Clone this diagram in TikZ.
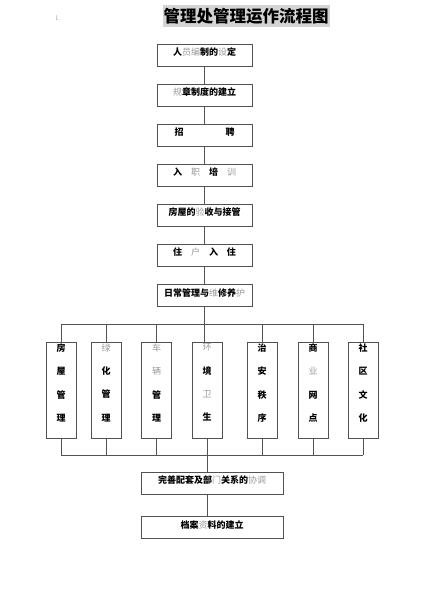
\documentclass[tikz,border=0pt]{standalone}
\usepackage{fontspec}
\newfontfamily\cjk{Noto Sans CJK SC}
\usetikzlibrary{positioning}
\definecolor{linegray}{gray}{0.32}
\definecolor{faintchar}{gray}{0.6}
\definecolor{titlebg}{gray}{0.83}
\newcommand\faint[1]{{\mdseries\textcolor{faintchar}{#1}}}
\begin{document}
\begin{tikzpicture}[x=1pt,y=1pt,
    stepbox/.style = {draw=linegray, line width=0.8pt,
    minimum width=95pt, minimum height=22pt, inner sep=0pt,
    text height=8pt, text depth=7pt,
    font=\cjk\bfseries\fontsize{9pt}{10pt}\selectfont},
    widebox/.style = {stepbox, minimum width=142pt},
    vbox/.style = {draw=linegray, line width=0.8pt,
    minimum width=30pt, minimum height=96pt, inner sep=0pt},
    vlabel/.style = {anchor=north, align=center, inner sep=0pt, yshift=-2pt,
    font=\cjk\bfseries\fontsize{9pt}{23.3pt}\selectfont},
    link/.style = {draw=linegray, line width=0.8pt}]
\useasboundingbox (0,0) rectangle (425,601);
% title
\node[fill=titlebg, inner sep=1pt, minimum height=22pt,
  font=\cjk\bfseries\fontsize{16.5pt}{18pt}\selectfont] (title) at (246,585) {管理处管理运作流程图};
\node[text=faintchar, font=\rmfamily\fontsize{7pt}{8pt}\selectfont] (num) at (58,583) {1.};
% main chain
\node[stepbox] (m1) at (204.5,546) {人\faint{员编}制的\faint{设}定};
\node[stepbox, below=17.3pt of m1] (m2) {\faint{规}章制度的建立};
\node[stepbox, below=17.3pt of m2] (m3) {招\hspace{42pt}聘};
\node[stepbox, below=17.3pt of m3] (m4) {入\hspace{9pt}\faint{职}\hspace{9pt}培\hspace{9pt}\faint{训}};
\node[stepbox, below=17.3pt of m4] (m5) {房屋的\faint{验}收与接管};
\node[stepbox, below=17.3pt of m5] (m6) {住\hspace{9pt}\faint{户}\hspace{9pt}入\hspace{9pt}住};
\node[stepbox, below=17.3pt of m6] (m7) {日常管理与\faint{维}修养\faint{护}};
\foreach \i [count=\j from 2] in {1,...,6}
  \draw[link] (m\i.south) -- (m\j.north);
% branches
\foreach \x/\t [count=\i] in {61/{房\\屋\\管\\理}, 106/{\faint{绿}\\化\\管\\理},
    156.5/{\faint{车}\\\faint{辆}\\管\\理}, 207/{\faint{环}\\境\\\faint{卫}\\生},
    262/{治\\安\\秩\\序}, 313/{商\\\faint{业}\\网\\点}, 363/{社\\区\\文\\化}}
  \node[vbox, label={[vlabel]north:\t}] (v\i) at (\x,211) {};
\coordinate (topbus) at (0,277);
\coordinate (botbus) at (0,146);
\draw[link] (m7.south) -- (m7.south |- v4.north);
\draw[link] (v1.north |- topbus) -- (v7.north |- topbus);
\draw[link] (v1.south |- botbus) -- (v7.south |- botbus);
\foreach \i in {1,2,3,5,6,7}
  \draw[link] (v\i.north) -- (v\i.north |- topbus)
              (v\i.south) -- (v\i.south |- botbus);
% closing steps
\node[widebox] (b1) at (212,118) {完善配套及部\faint{门}关系的\faint{协调}};
\node[widebox, below=22pt of b1] (b2) {档案\faint{资}料的建立};
\draw[link] (v4.south) -- (v4.south |- b1.north);
\draw[link] (v4.south |- b1.south) -- (v4.south |- b2.north);
\end{tikzpicture}
\end{document}
